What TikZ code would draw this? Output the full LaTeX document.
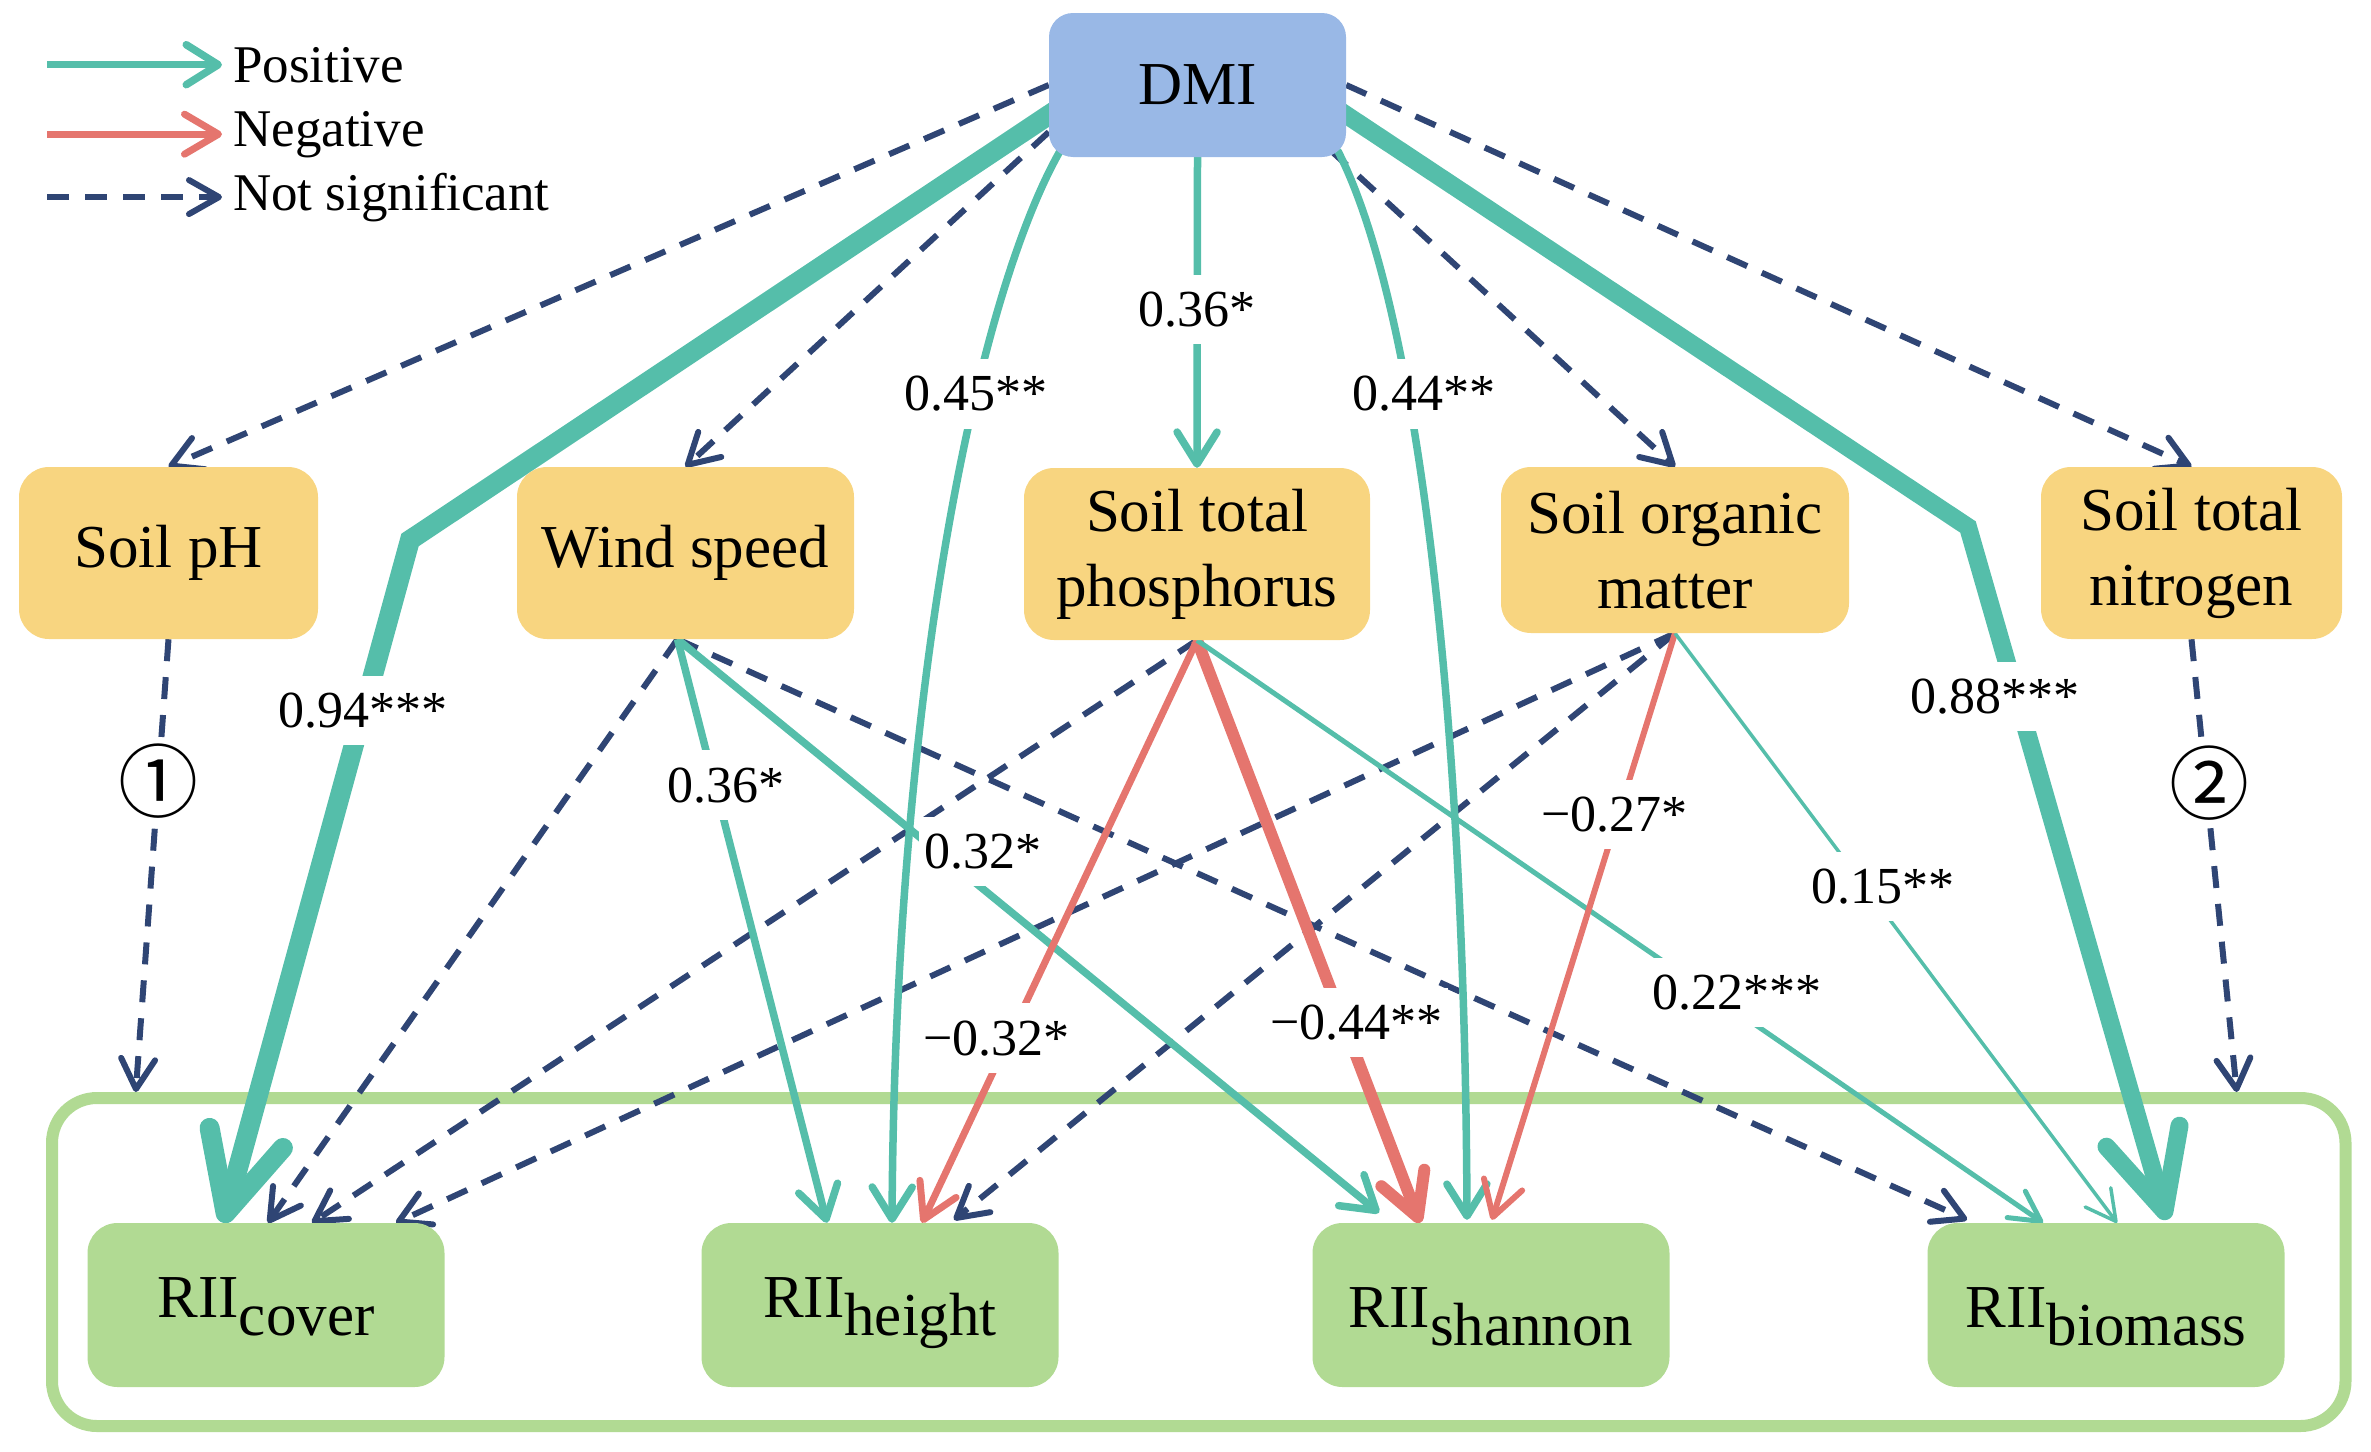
\documentclass[tikz,border=0pt]{standalone}
\usepackage{fontspec}
\setmainfont{Liberation Serif}
\newfontfamily\CircFont{Noto Sans CJK SC}
\usetikzlibrary{arrows.meta}
\pgfdeclarelayer{framelayer}
\pgfdeclarelayer{edgelayer}
\pgfsetlayers{framelayer,edgelayer,main}
\definecolor{cpos}{HTML}{55BEAA}
\definecolor{cneg}{HTML}{E5756E}
\definecolor{cns}{HTML}{2F4574}
\definecolor{cdmi}{HTML}{99B8E6}
\definecolor{cyel}{HTML}{F8D580}
\definecolor{cgrn}{HTML}{B1DA93}
\newcommand\NdFont{\fontsize{61}{75}\selectfont}
\newcommand\LbFont{\fontsize{52}{60}\selectfont}
\newcommand\LgFont{\fontsize{53}{60}\selectfont}
\tikzset{
  dmibox/.style={fill=cdmi, rounded corners=24pt, minimum width=297pt, minimum height=144pt, inner sep=0pt, font=\NdFont},
  factor/.style={fill=cyel, rounded corners=30pt, minimum height=172pt, inner sep=0pt, align=center, font=\NdFont},
  rii/.style={fill=cgrn, rounded corners=30pt, minimum width=357pt, minimum height=164pt, inner sep=0pt, font=\NdFont, text height=42pt, text depth=18pt},
  riilow/.style={rii, text height=52pt, text depth=8pt},
  bigframe/.style={draw=cgrn, line width=12pt, rounded corners=45pt, minimum width=2293.5pt, minimum height=328pt, inner sep=0pt},
  lbl/.style={fill=white, text=black, font=\LbFont, inner xsep=6pt, inner ysep=17pt},
  circ/.style={fill=white, text=black, font=\CircFont\fontsize{80}{80}\selectfont, inner sep=2pt},
  legtxt/.style={font=\LgFont, inner sep=0pt, anchor=base west},
  posM/.style={draw=cpos, line width=7.5pt, -{Straight Barb[length=32pt,width=40pt,round]}},
  posT/.style={draw=cpos, line width=4.5pt, -{Straight Barb[length=30pt,width=32pt,round]}},
  posK/.style={draw=cpos, line width=20pt, -{Straight Barb[length=78pt,width=76pt,round]}},
  negM/.style={draw=cneg, line width=7pt, -{Straight Barb[length=34pt,width=40pt,round]}},
  negK/.style={draw=cneg, line width=12pt, -{Straight Barb[length=42pt,width=46pt,round]}},
  ns/.style={draw=cns, line width=6pt, dash pattern=on 22pt off 16pt, -{Straight Barb[length=30pt,width=34pt,round]}},
}
\begin{document}
\begin{tikzpicture}[x=1pt,y=-1pt]
\useasboundingbox (0,0) rectangle (2371,1451);
% nodes
\node[dmibox] (DMI) at (1197.5,85) {DMI};
\node[factor, minimum width=299pt] (pH) at (168.5,553) {Soil pH};
\node[factor, minimum width=337pt] (WS) at (685.5,553) {Wind speed};
\node[factor, minimum width=346pt] (TP) at (1197,554) {Soil total\\phosphorus};
\node[factor, minimum width=348pt, minimum height=166pt] (SOM) at (1675,550) {Soil organic\\matter};
\node[factor, minimum width=301pt] (TN) at (2191.5,553) {Soil total\\nitrogen};
\node[rii] (Rc) at (266,1305) {RII\raisebox{-18pt}{cover}};
\node[rii] (Rh) at (880,1305) {RII\raisebox{-18pt}{height}};
\node[riilow] (Rs) at (1491,1305) {RII\raisebox{-18pt}{shannon}};
\node[riilow] (Rb) at (2106,1305) {RII\raisebox{-18pt}{biomass}};
\begin{pgfonlayer}{framelayer}
\node[bigframe] (box) at (1198.75,1262) {};
\end{pgfonlayer}
% legend
\node[legtxt] (legP) at (233,82) {Positive};
\node[legtxt] (legN) at (233,146) {Negative};
\node[legtxt] (legS) at (233,210) {Not significant};
\draw[posM] ([xshift=-186pt]legP.west) -- ([xshift=-11pt]legP.west);
\draw[negM] ([xshift=-186pt]legN.west) -- ([xshift=-11pt]legN.west);
\draw[ns] ([xshift=-186pt]legS.west) -- ([xshift=-11pt]legS.west);
\coordinate (bendL) at (410,540);
\coordinate (bendR) at (1968,527);
\begin{pgfonlayer}{edgelayer}
% not significant
\draw[ns] (DMI.west) -- (pH.north);
\draw[ns] ([yshift=-47pt]DMI.west) -- (WS.north);
\draw[ns] ([xshift=133pt,yshift=7pt]DMI.south) -- (SOM.north);
\draw[ns] (DMI.east) -- (TN.north);
\draw[ns] ([xshift=-8pt]WS.south) -- ([xshift=2pt]Rc.north);
\draw[ns] ([xshift=-8pt]WS.south) -- ([xshift=-139pt,yshift=3pt]Rb.north);
\draw[ns] (TP.south) -- ([xshift=46pt]Rc.north);
\draw[ns] (SOM.south) -- ([xshift=130pt]Rc.north);
\draw[ns] (SOM.south) -- ([xshift=74pt,yshift=3pt]Rh.north);
\draw[ns] (pH.south) -- node[circ, pos=0.314] {①} ([xshift=-1063pt]box.north);
\draw[ns] (TN.south) -- node[circ, pos=0.317, xshift=4pt] {②} ([xshift=1038pt]box.north);
% DMI effects
\draw[posK] ([xshift=21pt,yshift=-16pt]DMI.west) -- (bendL) -- node[lbl,pos=0.25]{0.94***} ([xshift=-43pt]Rc.north);
\draw[posK, line width=18pt] ([xshift=-21pt,yshift=-16pt]DMI.east) -- (bendR) -- node[lbl,pos=0.245,xshift=-22pt]{0.88***} ([xshift=61pt,yshift=3pt]Rb.north);
\draw[posM] (DMI.south) -- node[lbl,pos=0.49]{0.36*} (TP.north);
\draw[posM] ([xshift=-137pt,yshift=7pt]DMI.south) .. controls (975,300) and (895,700) .. node[lbl,pos=0.35]{0.45**} ([xshift=12pt]Rh.north);
\draw[posM] ([xshift=140pt,yshift=7pt]DMI.south) .. controls (1415,300) and (1465,700) .. node[lbl,pos=0.35,xshift=16pt]{0.44**} ([xshift=-24pt,yshift=3pt]Rs.north);
% wind speed
\draw[posM] ([xshift=-8pt]WS.south) -- node[lbl,pos=0.25,xshift=11pt]{0.36*} ([xshift=-53pt]Rh.north);
\draw[posM] ([xshift=-8pt]WS.south) -- node[lbl,pos=0.37,xshift=46pt]{0.32*} ([xshift=-112pt,yshift=10pt]Rs.north);
% phosphorus
\draw[negM] (TP.south) -- node[lbl,pos=0.683,xshift=-13pt]{−0.32*} ([xshift=42pt]Rh.north);
\draw[negK] (TP.south) -- node[lbl,pos=0.656,xshift=13pt]{−0.44**} ([xshift=-71pt]Rs.north);
\draw[posT, line width=5pt] (TP.south) -- node[lbl,pos=0.605,xshift=28pt]{0.22***} ([xshift=-63pt]Rb.north);
% organic matter
\draw[negM, line width=6pt] (SOM.south) -- node[lbl,pos=0.309,xshift=-4pt]{−0.27*} ([xshift=1pt,yshift=3pt]Rs.north);
\draw[posT, line width=3.5pt] (SOM.south) -- node[lbl,pos=0.43,xshift=18pt]{0.15**} ([xshift=11pt]Rb.north);
\end{pgfonlayer}
\end{tikzpicture}
\end{document}
